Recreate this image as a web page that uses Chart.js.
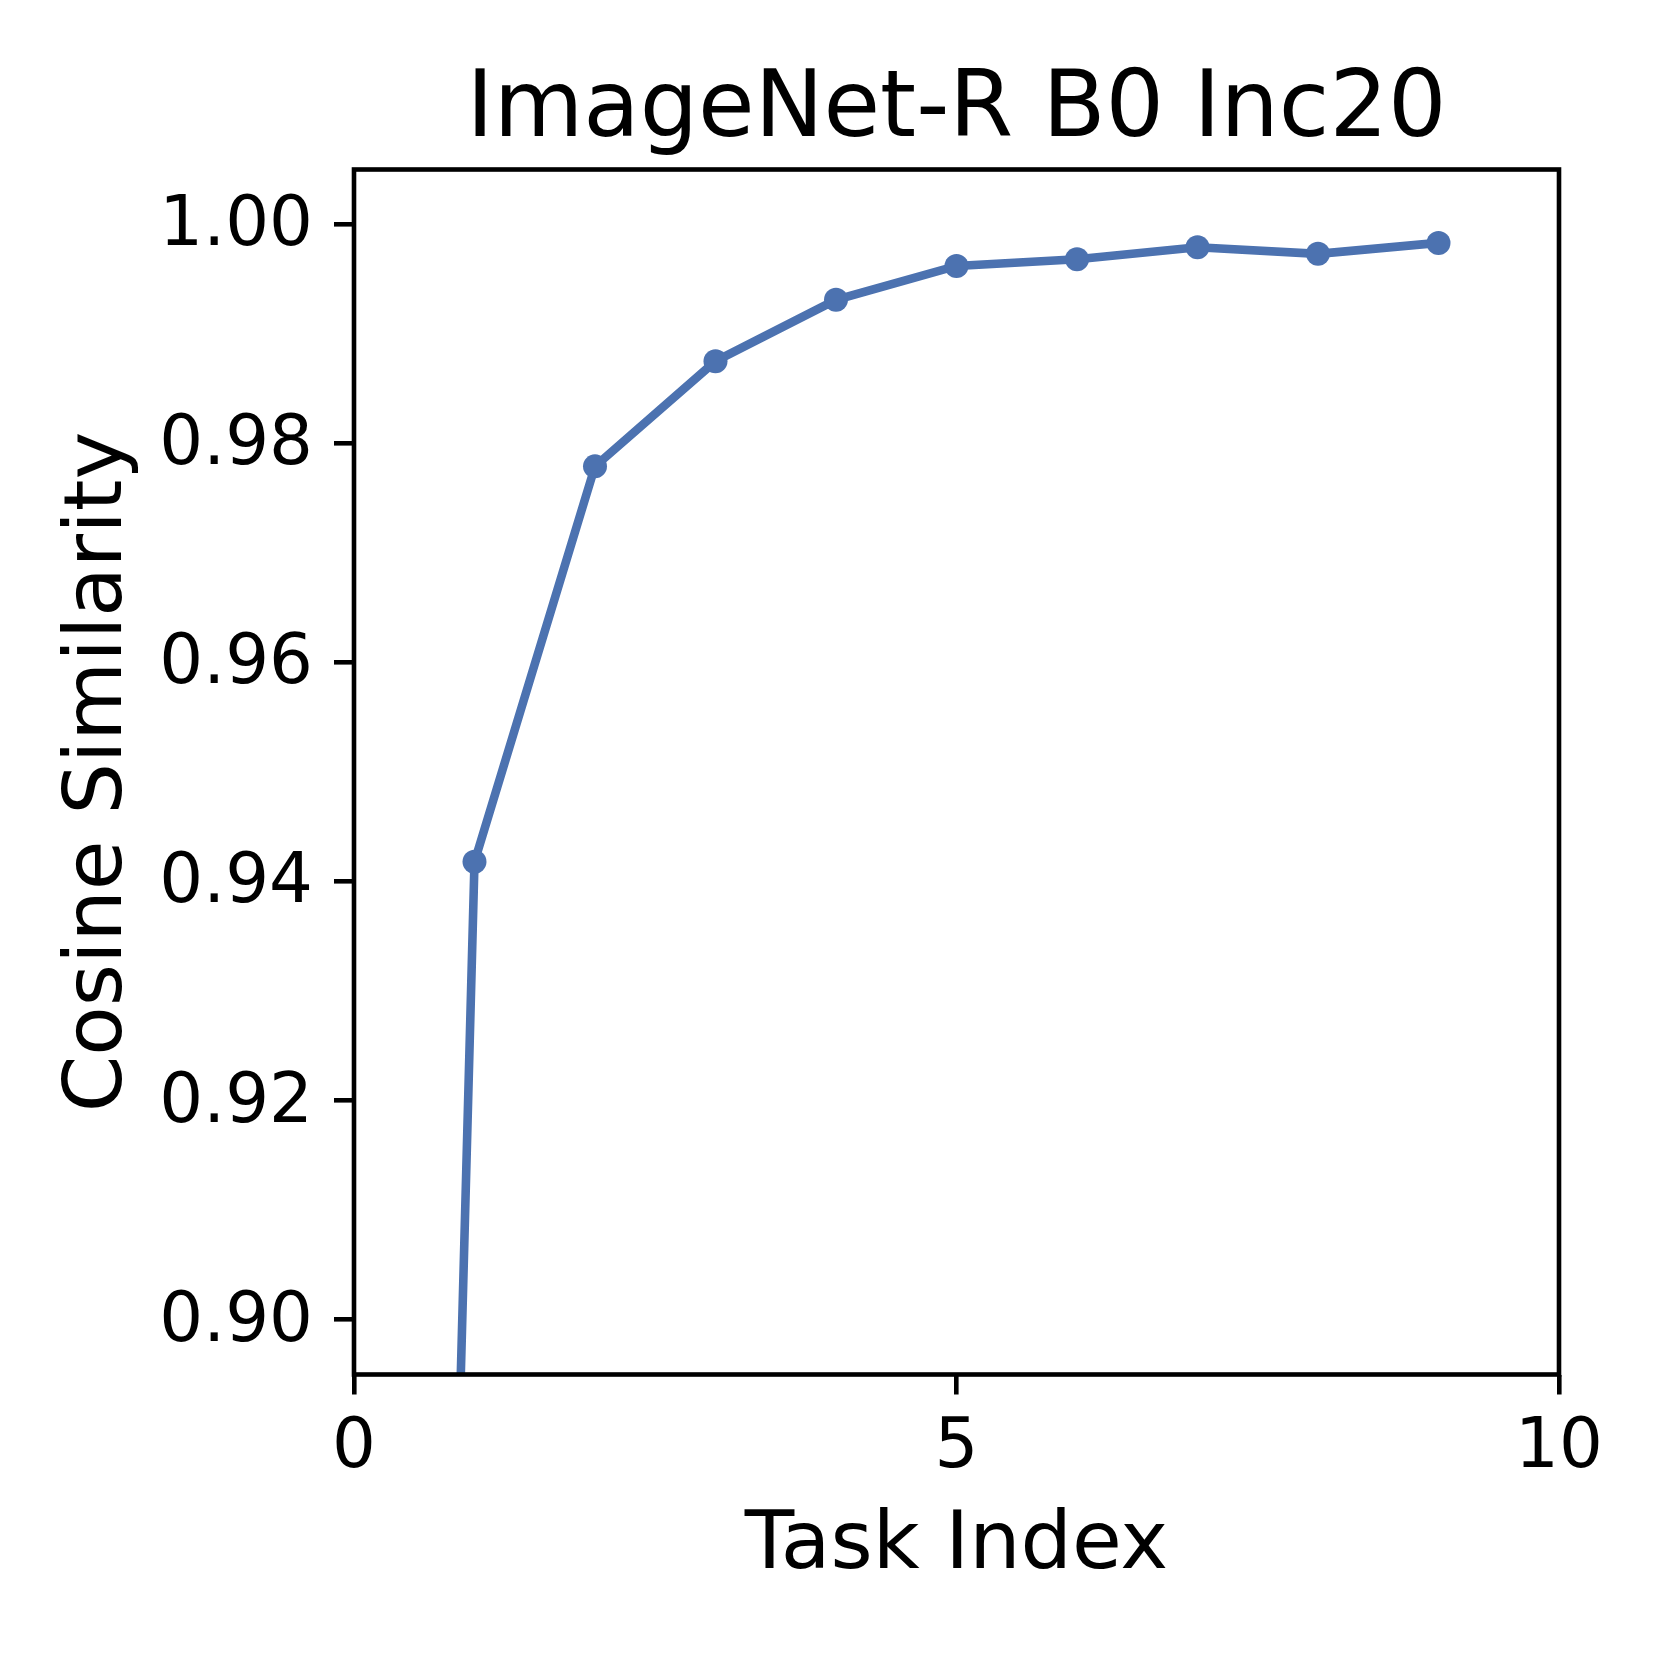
<!DOCTYPE html>
<html>
<head>
<meta charset="utf-8">
<script src="https://cdn.jsdelivr.net/npm/chart.js@4"></script>
<style>
  html, body { margin: 0; padding: 0; background: #ffffff; }
  #wrap { width: 1661px; height: 1661px; }
</style>
</head>
<body>
<div id="wrap"><canvas id="c" width="1661" height="1661"></canvas></div>
<script>
// ---- data ----
const taskIndex = [0, 1, 2, 3, 4, 5, 6, 7, 8, 9];
const cosineSimilarity = [0.530, 0.9418, 0.9779, 0.9875, 0.9931, 0.9962, 0.9968, 0.9979, 0.9973, 0.9983];
const xTickValues = [0, 5, 10];
const yTickValues = [0.90, 0.92, 0.94, 0.96, 0.98, 1.00];
const chartTitle = 'ImageNet-R B0 Inc20';
const xAxisTitle = 'Task Index';
const yAxisTitle = 'Cosine Similarity';

const FONT = '"DejaVu Sans", sans-serif';
const LINE_COLOR = '#4C72B0';
const SPINE_W = 4.6;

const points = taskIndex.map((x, i) => ({ x: x, y: cosineSimilarity[i] }));

const textPlugin = {
  id: 'mplText',
  afterDraw(chart) {
    const ctx = chart.ctx;
    const a = chart.chartArea;
    ctx.save();
    // frame (spines)
    ctx.strokeStyle = '#000';
    ctx.lineWidth = SPINE_W;
    ctx.strokeRect(a.left, a.top, a.right - a.left, a.bottom - a.top);
    ctx.fillStyle = '#000';
    // title
    ctx.font = '92px ' + FONT;
    ctx.textAlign = 'center';
    ctx.textBaseline = 'alphabetic';
    ctx.fillText(chartTitle, (a.left + a.right) / 2, 136);
    // x label
    ctx.font = '81px ' + FONT;
    ctx.fillText(xAxisTitle, (a.left + a.right) / 2, 1568);
    // y label
    ctx.translate(121, (a.top + a.bottom) / 2);
    ctx.rotate(-Math.PI / 2);
    ctx.fillText(yAxisTitle, 0, 0);
    ctx.restore();
  }
};

new Chart(document.getElementById('c'), {
  type: 'line',
  data: {
    datasets: [{
      data: points,
      borderColor: LINE_COLOR,
      backgroundColor: LINE_COLOR,
      borderWidth: 8.6,
      pointRadius: 12,
      pointHoverRadius: 12,
      pointBorderWidth: 0,
      pointBackgroundColor: LINE_COLOR,
      tension: 0,
      fill: false,
      clip: 0
    }]
  },
  options: {
    responsive: false,
    animation: false,
    devicePixelRatio: 1,
    events: [],
    layout: { padding: { left: 0, top: 169.5, right: 102, bottom: 0 } },
    plugins: { legend: { display: false }, title: { display: false }, tooltip: { enabled: false } },
    scales: {
      x: {
        type: 'linear',
        min: 0,
        max: 10,
        afterBuildTicks(scale) { scale.ticks = xTickValues.map(v => ({ value: v })); },
        afterFit(scale) { scale.height = 1661 - 1374.5; },
        border: { display: false },
        grid: { drawOnChartArea: false, drawTicks: true, tickLength: 20, lineWidth: SPINE_W, color: '#000' },
        ticks: {
          autoSkip: false, maxRotation: 0, minRotation: 0, padding: 13,
          color: '#000', font: { family: FONT, size: 69 },
          callback: v => String(v)
        }
      },
      y: {
        type: 'linear',
        min: 0.895,
        max: 1.005,
        afterBuildTicks(scale) { scale.ticks = yTickValues.map(v => ({ value: v })); },
        afterFit(scale) { scale.width = 354; },
        border: { display: false },
        grid: { drawOnChartArea: false, drawTicks: true, tickLength: 20, lineWidth: SPINE_W, color: '#000' },
        ticks: {
          autoSkip: false, padding: 21, labelOffset: 3,
          color: '#000', font: { family: FONT, size: 69 },
          callback: v => Number(v).toFixed(2)
        }
      }
    }
  },
  plugins: [textPlugin]
});
</script>
</body>
</html>
